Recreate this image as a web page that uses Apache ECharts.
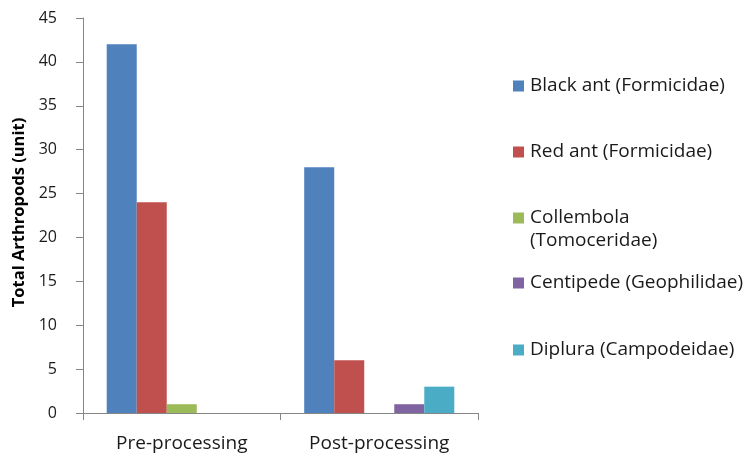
<!DOCTYPE html>
<html>
<head>
<meta charset="utf-8">
<script src="https://cdn.jsdelivr.net/npm/echarts@6/dist/echarts.min.js"></script>
<style>
html,body{margin:0;padding:0;background:#fff;}
#chart{width:748px;height:456px;}
</style>
</head>
<body>
<div id="chart"></div>
<script>
const categories = ['Pre-processing', 'Post-processing'];
const seriesNames = ['Black ant (Formicidae)', 'Red ant (Formicidae)', 'Collembola (Tomoceridae)', 'Centipede (Geophilidae)', 'Diplura (Campodeidae)'];
const blackAnt = [42, 28];
const redAnt = [24, 6];
const collembola = [1, 0];
const centipede = [0, 1];
const diplura = [0, 3];
const colors = ['#4F81BD', '#C0504D', '#9BBB59', '#8064A2', '#4BACC6'];
const yTicks = { min: 0, max: 45, interval: 5 };

const values = [blackAnt, redAnt, collembola, centipede, diplura];
const FONT = 'Open Sans';
const legendCenters = [86, 152, 218, 283, 350];

const legends = seriesNames.map((n, i) => {
  const multi = i === 2;
  const lh = 23;
  const h = multi ? lh * 3 : lh;
  return {
    orient: 'vertical',
    left: 513,
    top: legendCenters[i] - h / 2,
    padding: 0,
    itemWidth: 11,
    itemHeight: 11,
    itemGap: 0,
    icon: 'rect',
    data: [n],
    formatter: multi ? function () { return ' \nCollembola\n(Tomoceridae)'; } : undefined,
    textStyle: { fontFamily: FONT, fontSize: 19, color: '#1a1a1a', lineHeight: lh, padding: [0, 0, 0, 1] }
  };
});

const option = {
  animation: false,
  color: colors,
  grid: { left: 83, right: 270, top: 18, bottom: 43, containLabel: false },
  legend: legends,
  xAxis: {
    type: 'category',
    data: categories,
    axisLine: { show: true, lineStyle: { color: '#868686', width: 1 } },
    axisTick: { show: true, length: 7, lineStyle: { color: '#868686' } },
    axisLabel: { fontFamily: FONT, fontSize: 19, color: '#1a1a1a', margin: 21 }
  },
  yAxis: {
    type: 'value',
    min: yTicks.min, max: yTicks.max, interval: yTicks.interval,
    name: 'Total Arthropods (unit)',
    nameLocation: 'middle',
    nameRotate: 90,
    nameGap: 51,
    nameTextStyle: { fontFamily: FONT, fontSize: 16.5, fontWeight: 'bold', color: '#000', padding: [0, 0, 0, 6] },
    axisLine: { show: true, lineStyle: { color: '#868686', width: 1 } },
    axisTick: { show: true, length: 7, lineStyle: { color: '#868686' } },
    splitLine: { show: false },
    axisLabel: { fontFamily: FONT, fontSize: 16, color: '#1a1a1a', margin: 26 }
  },
  series: seriesNames.map((n, i) => ({
    name: n,
    type: 'bar',
    data: values[i],
    barGap: '0%',
    barCategoryGap: '24%',
    itemStyle: { color: colors[i] }
  }))
};

const chart = echarts.init(document.getElementById('chart'), null, { renderer: 'canvas' });
chart.setOption(option);
</script>
</body>
</html>
